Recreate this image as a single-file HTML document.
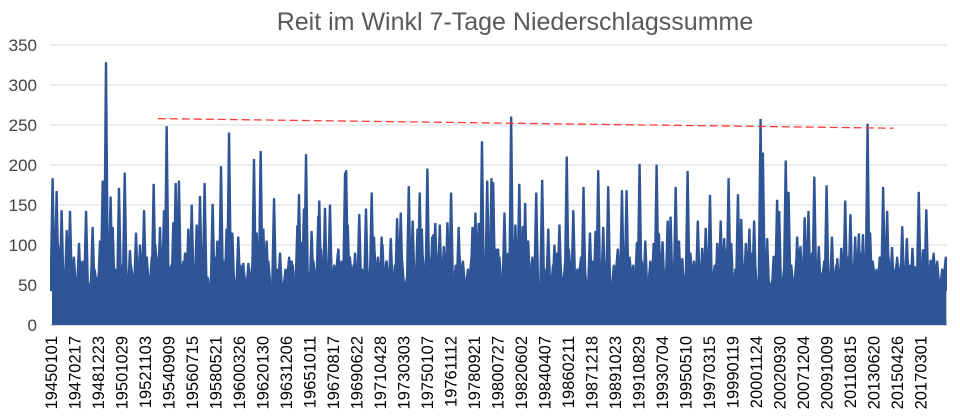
<!DOCTYPE html>
<html><head><meta charset="utf-8">
<style>
html,body{margin:0;padding:0;background:#fff;}
svg{display:block;font-family:"Liberation Sans",Arial,sans-serif;}
</style></head>
<body>
<svg id="chart" width="960" height="420" viewBox="0 0 960 420" xmlns="http://www.w3.org/2000/svg">
<defs><clipPath id="plotclip"><rect x="50" y="30" width="897" height="296"/></clipPath></defs>
<text x="515" y="30" text-anchor="middle" font-size="25" fill="#595959">Reit im Winkl  7-Tage Niederschlagssumme</text>
<g id="grid"></g>
<g id="yticks"></g>
<g id="series" clip-path="url(#plotclip)"></g>
<g id="trend"></g>
<g id="xticks"></g>
</svg>
<script>
const yTicks = [0,50,100,150,200,250,300,350];
const xLabels = ["19450101","19470217","19481223","19501029","19521103","19540909","19560715","19580521","19600326","19620130","19631206","19651011","19670817","19690622","19710428","19730303","19750107","19761112","19780921","19800727","19820602","19840407","19860211","19871218","19891023","19910829","19930704","19950510","19970315","19990119","20001124","20020930","20071204","20091009","20110815","20130620","20150426","20170301"];
// peak positions (years into record) and peak 7-day sums
const peakT = [0.05,0.38,0.79,1.21,1.48,2.22,2.80,3.34,3.95,4.17,4.44,4.82,4.99,5.51,5.98,6.41,6.91,7.24,7.57,7.92,8.36,8.88,9.21,9.43,9.98,10.17,10.44,10.94,11.21,11.49,11.90,12.17,12.55,12.91,13.21,13.60,13.90,14.36,14.56,14.83,15.32,15.73,16.15,16.61,16.83,17.16,17.38,17.65,18.26,18.75,19.30,19.71,20.18,20.31,20.53,20.72,20.89,21.16,21.35,21.90,21.98,22.12,22.45,22.86,23.55,24.10,24.19,24.32,24.92,25.27,25.82,26.29,26.48,27.11,27.18,27.52,27.86,28.38,28.68,29.34,29.66,30.06,30.24,30.41,30.87,31.27,31.37,31.52,31.89,32.22,32.52,32.82,33.44,34.58,34.82,35.09,35.36,35.79,36.14,36.28,36.69,37.21,37.76,38.11,38.43,38.72,38.91,39.16,39.82,40.31,40.81,41.32,41.73,42.33,42.87,43.29,43.71,44.24,44.70,44.92,45.33,45.74,46.53,46.87,47.25,47.78,48.10,48.32,48.79,49.48,49.72,49.91,50.21,50.63,50.87,51.29,51.56,51.83,52.27,52.75,53.11,53.47,53.76,54.11,54.71,54.99,55.28,55.64,55.86,56.41,56.68,57.06,57.35,57.74,58.27,58.46,58.81,59.35,59.63,59.80,60.34,60.57,61.28,61.55,61.90,62.21,62.69,63.06,63.38,63.70,64.14,64.58,64.91,65.23,65.66,66.05,66.35,66.69,67.07,67.28,67.58,68.07,68.35,68.68,69.08,69.44,69.92,70.30,70.76,70.95,71.28,71.63,71.90,72.25];
const peakV = [183,167,143,118,142,102,142,122,105,180,328,160,122,171,190,93,115,100,143,57,176,122,143,248,128,177,180,90,120,150,125,161,177,50,151,105,198,120,240,115,110,77,77,207,115,217,120,105,158,90,60,80,124,163,103,145,213,60,117,136,155,95,146,150,95,190,193,125,90,138,145,165,110,110,100,80,108,133,140,173,130,120,165,120,195,110,113,127,125,98,128,165,122,122,140,127,229,180,183,178,95,140,260,125,176,123,152,105,165,181,120,100,125,210,143,70,172,115,117,193,122,173,95,168,168,65,103,201,105,102,200,114,104,130,135,172,105,83,192,45,130,96,121,162,102,130,108,183,102,163,132,102,120,130,257,215,108,86,156,142,205,166,110,98,134,142,185,98,58,174,110,83,96,155,138,110,114,113,251,115,49,85,172,142,97,71,123,108,96,73,166,94,144,81,89,89];
// medium-level events, one per record year (placed mid-year)
const midV = [100,95,80,70,90,85,75,95,100,85,90,80,70,85,95,75,80,90,70,85,95,80,75,90,85,70,95,80,90,75,85,100,80,90,85,75,95,90,80,85,70,90,95,85,80,75,90,85,80,95,70,85,90,80,75,95,85,90,80,70,85,95,90,80,75,85,90,80,95,85,75,80,90,85];
const floorV = [48];
const trendT = [8.7, 69.2];
const trendV = [258, 246];
const recordEndT = 73.55;

const NS = "http://www.w3.org/2000/svg";
const X0 = 50, X1 = 947, Y0 = 325, YTOP = 45;
const yMax = 350;
const y = v => Y0 - v / yMax * (Y0 - YTOP);
const x = t => 52 + t * 12.16;
const labelX = i => 51 + i * 23.5;

function mk(tag, attrs, parent) {
  const e = document.createElementNS(NS, tag);
  for (const k in attrs) e.setAttribute(k, attrs[k]);
  parent.appendChild(e);
  return e;
}
const grid = document.getElementById('grid');
const yt = document.getElementById('yticks');
yTicks.forEach(v => {
  const l = mk('line', {x1: X0, x2: X1, y1: y(v), y2: y(v), stroke: v === 0 ? '#bfbfbf' : '#d9d9d9', 'stroke-width': 1}, grid);
  
  
  const t = mk('text', {x: 37, y: y(v) + 6, 'text-anchor': 'end', 'font-size': 17, fill: '#404040'}, yt);
  t.textContent = v;
  
  
});

const sg = document.getElementById('series');
const base = mk('rect', {x: x(0), y: y(floorV[0]), width: x(recordEndT) - x(0), height: y(0) - y(floorV[0]), fill: '#2f5597'}, sg);



function spike(px, v, hw) {
  return ' M' + (px - hw) + ',' + y(floorV[0] - 5) + ' L' + (px - 0.7) + ',' + y(v) + ' L' + (px + 0.7) + ',' + y(v) + ' L' + (px + hw) + ',' + y(floorV[0] - 5) + ' Z';
}
let dm = '';
midV.forEach((v, i) => { dm += spike(x(i + 0.5), v, 4); dm += spike(x(i + 0.2), v - 15, 3); dm += spike(x(i + 0.8), v - 10, 3); });
const mid = mk('path', {d: dm, fill: '#2f5597', stroke: '#2f5597', 'stroke-width': 0.8}, sg);



let d = '';
peakT.forEach((t, i) => { d += spike(x(t), peakV[i], 2.6); });
const area = mk('path', {d: d, fill: '#2f5597', stroke: '#2f5597', 'stroke-width': 1, 'stroke-linejoin': 'round'}, sg);



const tl = mk('line', {x1: x(trendT[0]), x2: x(trendT[1]), y1: y(trendV[0]), y2: y(trendV[1]), stroke: '#ff3b3b', 'stroke-width': 1.3, 'stroke-dasharray': '8,4'}, document.getElementById('trend'));



const xt = document.getElementById('xticks');
xLabels.forEach((s, i) => {
  const lx = labelX(i);
  const t = mk('text', {x: 0, y: 0, 'text-anchor': 'end', 'font-size': 16.5, fill: '#000', transform: 'translate(' + (lx + 6) + ',336) rotate(-90)'}, xt);
  t.textContent = s;
  
  
});
</script>
</body></html>
